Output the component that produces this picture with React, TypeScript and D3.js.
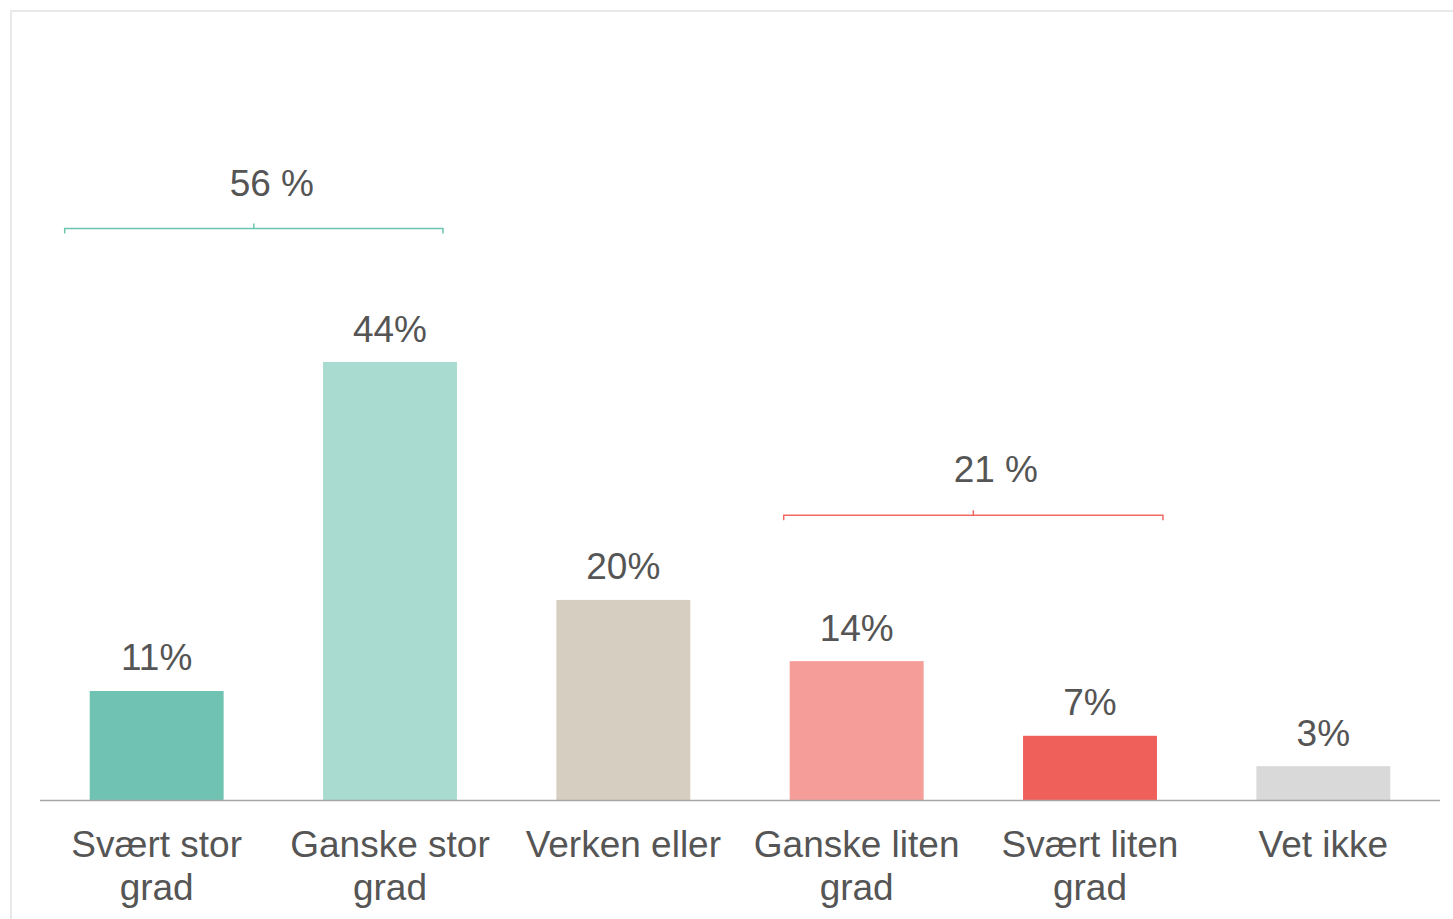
import { useEffect, useRef } from "react";
import * as d3 from "d3";

const categories = [
  ["Svært stor", "grad"],
  ["Ganske stor", "grad"],
  ["Verken eller"],
  ["Ganske liten", "grad"],
  ["Svært liten", "grad"],
  ["Vet ikke"],
];
const values = [10.95, 44, 20.1, 13.95, 6.45, 3.4];
const valueLabels = ["11%", "44%", "20%", "14%", "7%", "3%"];
const colors = ["#70c3b3", "#a9dbd1", "#d6cec1", "#f59d98", "#f0605a", "#d9d9d9"];

// summary brackets: first/last bar index, level (in % units), label
const bracketFrom = [0, 3];
const bracketTo = [1, 4];
const bracketLevel = [57.4, 28.6];
const bracketLabels = ["56 %", "21 %"];
const bracketColors = ["#6cc5b0", "#f06a63"];
const bracketPad = [
  [-25, -14],
  [-6, 6],
];
const bracketLabelShift = [18, 22.5];

const W = 1453,
  H = 919;
const TEXT = "#555555";
const FONT = "'Liberation Sans', Arial, sans-serif";

function draw(el: SVGSVGElement) {
  const svg = d3.select(el);
  svg.selectAll("*").remove();

  svg
    .append("rect")
    .attr("x", 11)
    .attr("y", 11)
    .attr("width", W + 20)
    .attr("height", H + 20)
    .attr("fill", "white")
    .attr("stroke", "#e4e4e4")
    .attr("stroke-width", 1.6);

  const idx = d3.range(categories.length);
  const x = d3.scaleBand<number>().domain(idx).range([40, 1440]).paddingInner(0.426).paddingOuter(0.213);
  const y = d3.scaleLinear().domain([0, 50]).range([800, 800 - (438 / 44) * 50]);

  svg
    .selectAll(".bar")
    .data(idx)
    .join("rect")
    .attr("x", (i) => x(i)!)
    .attr("width", x.bandwidth())
    .attr("y", (i) => y(values[i]))
    .attr("height", (i) => y(0) - y(values[i]))
    .attr("fill", (i) => colors[i]);

  svg
    .append("line")
    .attr("x1", 40)
    .attr("x2", 1440)
    .attr("y1", y(0) + 0.5)
    .attr("y2", y(0) + 0.5)
    .attr("stroke", "#a6a6a6")
    .attr("stroke-width", 1.3);

  svg
    .selectAll(".val")
    .data(idx)
    .join("text")
    .attr("x", (i) => x(i)! + x.bandwidth() / 2)
    .attr("y", (i) => y(values[i]) - 20.5)
    .attr("text-anchor", "middle")
    .attr("font-family", FONT)
    .attr("font-size", 37)
    .attr("fill", TEXT)
    .text((i) => valueLabels[i]);

  const cat = svg
    .selectAll(".cat")
    .data(idx)
    .join("text")
    .attr("text-anchor", "middle")
    .attr("font-family", FONT)
    .attr("font-size", 37)
    .attr("fill", TEXT);
  cat.each(function (i) {
    const t = d3.select(this);
    categories[i].forEach((line, k) => {
      t.append("tspan")
        .attr("x", x(i)! + x.bandwidth() / 2)
        .attr("y", 857 + k * 43)
        .text(line);
    });
  });

  bracketLabels.forEach((lab, b) => {
    const x0 = x(bracketFrom[b])! + bracketPad[b][0];
    const x1 = x(bracketTo[b])! + x.bandwidth() + bracketPad[b][1];
    const yy = y(bracketLevel[b]);
    const mid = (x0 + x1) / 2;
    const path = d3.path();
    path.moveTo(x0, yy + 5);
    path.lineTo(x0, yy);
    path.lineTo(x1, yy);
    path.lineTo(x1, yy + 5);
    path.moveTo(mid, yy);
    path.lineTo(mid, yy - 5);
    svg
      .append("path")
      .attr("d", path.toString())
      .attr("fill", "none")
      .attr("stroke", bracketColors[b])
      .attr("stroke-width", 1.5);
    svg
      .append("text")
      .attr("x", mid + bracketLabelShift[b])
      .attr("y", yy - 33)
      .attr("text-anchor", "middle")
      .attr("font-family", FONT)
      .attr("font-size", 37)
      .attr("fill", TEXT)
      .text(lab);
  });
}

export default function App() {
  const ref = useRef<SVGSVGElement>(null);
  useEffect(() => {
    if (ref.current) draw(ref.current);
  }, []);
  return (
    <svg
      ref={ref}
      width={W}
      height={H}
      style={{ position: "absolute", left: 0, top: 0, background: "white" }}
    />
  );
}
